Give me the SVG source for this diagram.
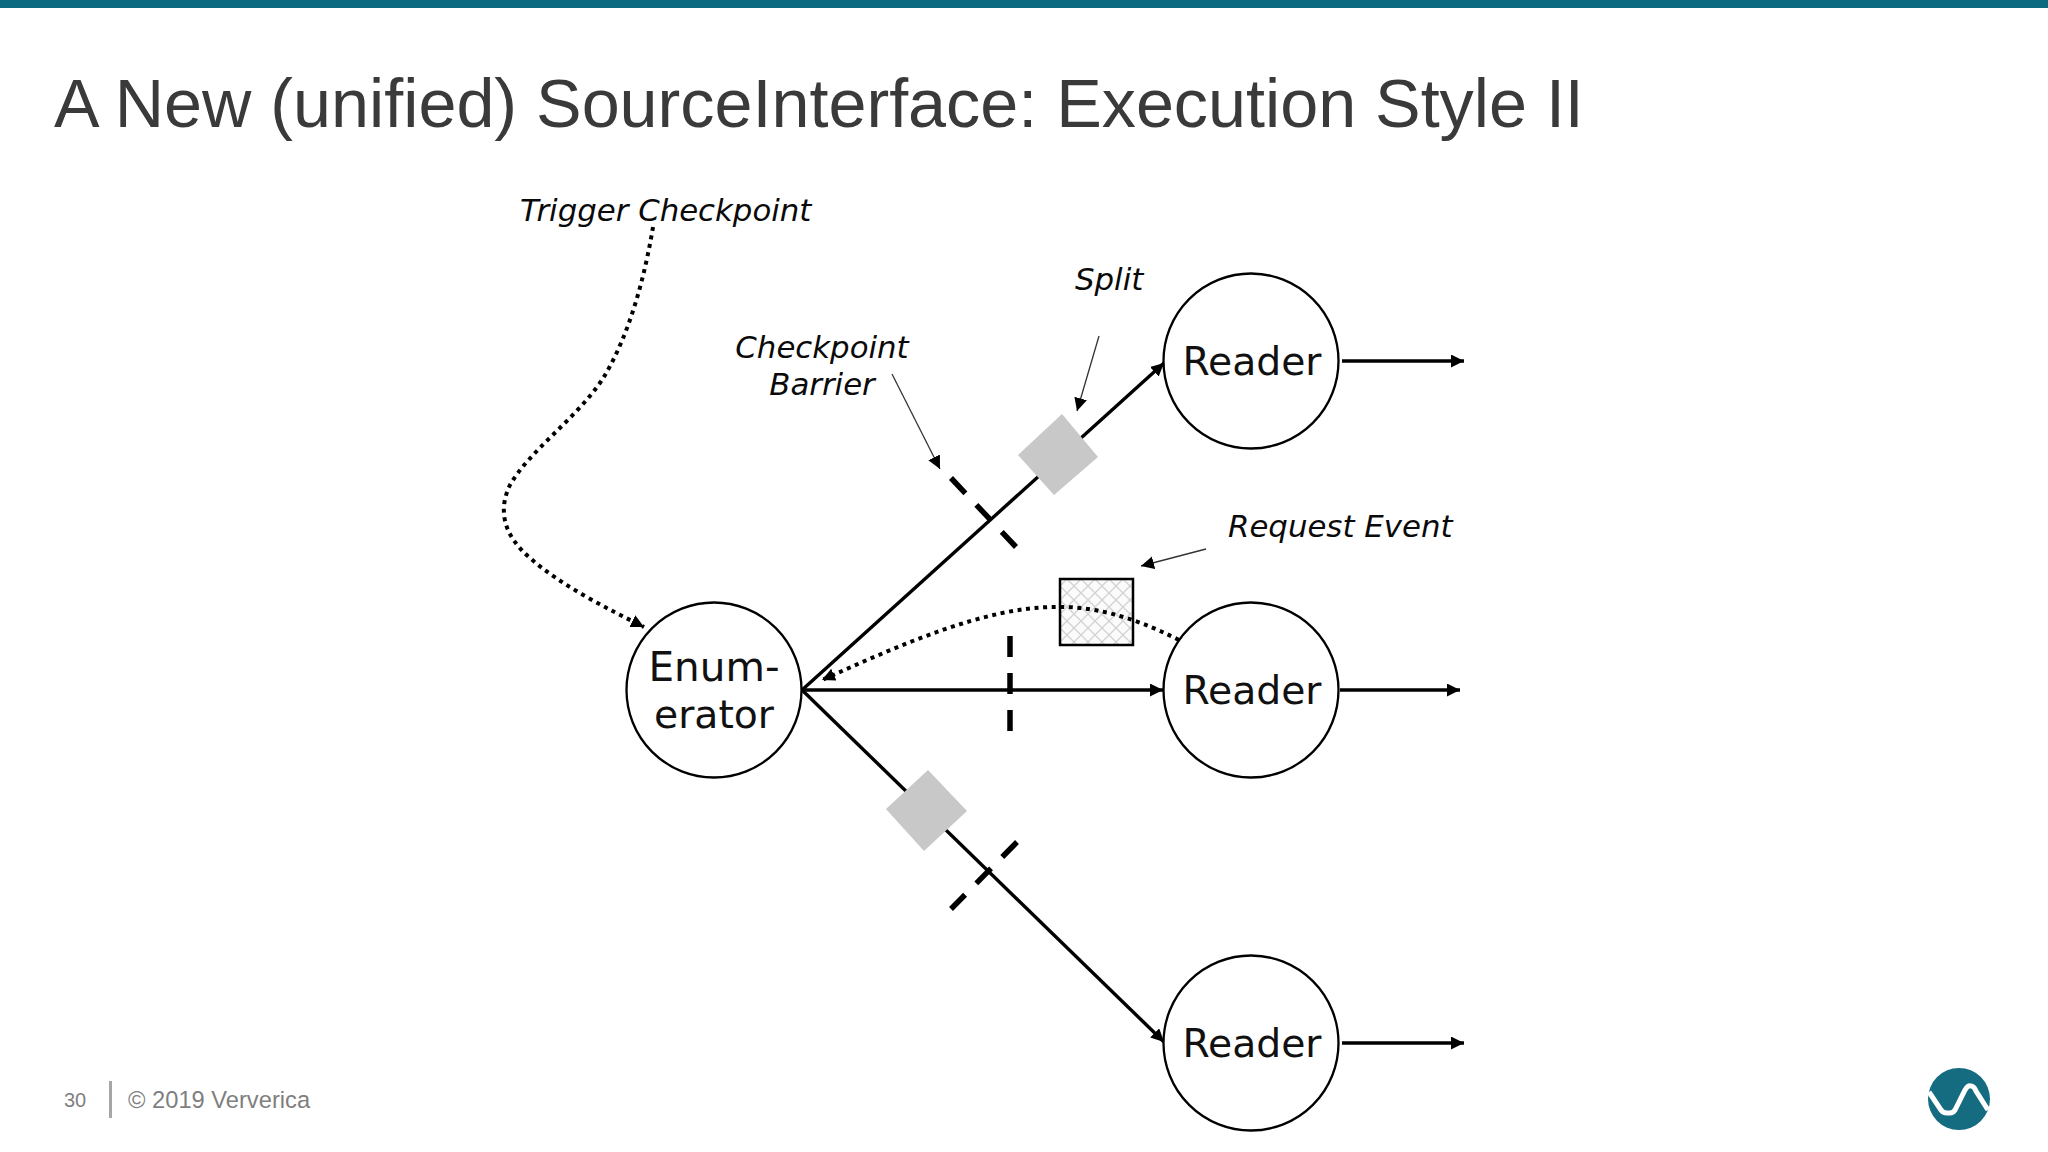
<svg xmlns="http://www.w3.org/2000/svg" width="2048" height="1152" viewBox="0 0 2048 1152">
<style>
.node{fill:#fff;stroke:#000;stroke-width:2.3}
.nt{font-family:"DejaVu Sans",sans-serif;font-size:39.300px;fill:#111;text-anchor:middle}
.lb{font-family:"DejaVu Sans",sans-serif;font-style:italic;font-size:30.800px;fill:#0a0a0a}
.solid{fill:none;stroke:#000;stroke-width:3.4}
.thin{fill:none;stroke:#333;stroke-width:1.3}
.dot{fill:none;stroke:#000;stroke-width:4;stroke-dasharray:4 4.6}
.bar{fill:none;stroke:#000;stroke-width:5.500;stroke-dasharray:21 16}
.split{fill:#c8c8c8}
.foot{font-family:"Liberation Sans",Arial,sans-serif;fill:#7f7f7f}
</style>
<defs>
<marker id="ah" markerUnits="userSpaceOnUse" markerWidth="14" markerHeight="14" refX="13" refY="6.5" orient="auto"><path d="M0 0L13 6.500L0 13Z" fill="#000"/></marker>
<pattern id="hatch" patternUnits="userSpaceOnUse" width="14" height="14" x="1060" y="579"><rect width="14" height="14" fill="#fbfbfb"/><path d="M0 7L7 0L14 7L7 14Z" fill="none" stroke="#d2d2d2" stroke-width="1.300"/></pattern>
</defs>
<rect id="topbar" x="0" y="0" width="2048" height="8" fill="#0b6a80"/>
<text id="title" x="54" y="127" font-family="'Liberation Sans',Arial,sans-serif" font-size="68.300" fill="#3a3a3a">A New (unified) SourceInterface: Execution Style II</text>

<g id="connectors">
<path class="solid" marker-end="url(#ah)" d="M802 690L1164 363"/>
<path class="solid" marker-end="url(#ah)" d="M802 690L1163 690"/>
<path class="solid" marker-end="url(#ah)" d="M802 690L1164 1042"/>
<path class="solid" marker-end="url(#ah)" d="M1342 361H1464"/>
<path class="solid" marker-end="url(#ah)" d="M1340 690H1460"/>
<path class="solid" marker-end="url(#ah)" d="M1342 1043H1464"/>
<path class="thin" marker-end="url(#ah)" d="M892 374L940 469"/>
<path class="thin" marker-end="url(#ah)" d="M1099 336L1077 411"/>
<path class="thin" marker-end="url(#ah)" d="M1206 549L1141 566"/>
<path class="dot" marker-end="url(#ah)" d="M653 227C645 275 630 335 602 380C575 420 530 450 510 485C498 510 503 535 530 558C560 585 610 610 644 627"/>
</g>

<g id="barrier-1"><path class="bar" d="M951 478L1016 547"/></g>
<g id="barrier-2"><path class="bar" d="M1010 636V731"/></g>
<g id="barrier-3"><path class="bar" d="M1017 842L951 909"/></g>
<g id="split-1"><path class="split" d="M1062 414L1098 457L1054 495L1018 455Z"/></g>
<g id="split-2"><path class="split" d="M928 770L967 811L924 851L886 809Z"/></g>
<g id="request-event"><rect x="1060" y="579" width="73" height="66" fill="url(#hatch)" stroke="#000" stroke-width="2.500"/></g>
<g id="request-connector"><path class="dot" marker-end="url(#ah)" d="M1179 640C1130 615 1090 606 1055 607C985 607 900 645 822 680"/></g>

<g id="enumerator"><circle class="node" cx="714" cy="690" r="87.500"/><text class="nt" style="font-size:40.500px" x="714" y="681">Enum-</text><text class="nt" x="714" y="728">erator</text></g>
<g id="reader-1"><circle class="node" cx="1251" cy="361" r="87.500"/><text class="nt" x="1252" y="375">Reader</text></g>
<g id="reader-2"><circle class="node" cx="1251" cy="690" r="87.500"/><text class="nt" x="1252" y="704">Reader</text></g>
<g id="reader-3"><circle class="node" cx="1251" cy="1043" r="87.500"/><text class="nt" x="1252" y="1057">Reader</text></g>

<g id="labels">
<text class="lb" x="520" y="221">Trigger Checkpoint</text>
<text class="lb" x="1075" y="290">Split</text>
<text class="lb" x="822" y="358" text-anchor="middle">Checkpoint</text>
<text class="lb" x="822" y="395" text-anchor="middle">Barrier</text>
<text class="lb" x="1228" y="537">Request Event</text>
</g>

<g id="footer">
<text class="foot" x="64" y="1107" font-size="20">30</text>
<rect x="109" y="1081" width="3" height="37" fill="#a6a6a6"/>
<text class="foot" x="128" y="1108" font-size="23.700">© 2019 Ververica</text>
</g>
<g id="logo"><circle cx="1959" cy="1099" r="31" fill="#156b80"/><path d="M1929 1092L1941 1110Q1943 1113 1947 1113L1950 1113Q1953 1113 1955 1110L1965 1090Q1968 1085 1971 1086Q1974 1086 1976 1091L1988 1110" fill="none" stroke="#fff" stroke-width="5"/></g>
</svg>
